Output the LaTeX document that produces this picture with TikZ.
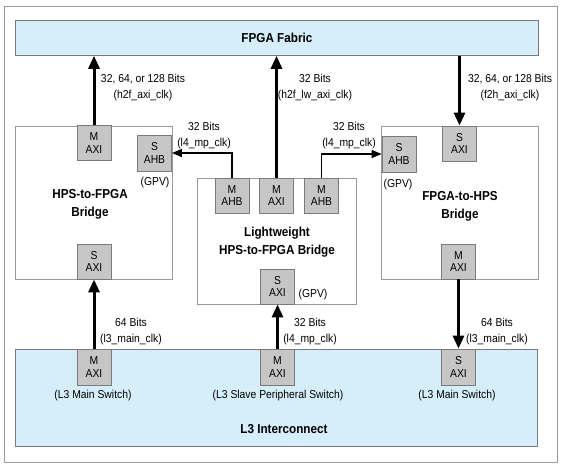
\documentclass[tikz,border=0pt]{standalone}
\usepackage{fontspec}
\setmainfont{Liberation Sans}[FakeStretch=0.9]
\usetikzlibrary{arrows.meta}
\definecolor{lblue}{HTML}{D5EEF9}
\definecolor{pgray}{HTML}{C6C6C6}
\definecolor{pborder}{HTML}{7A7A7A}
\definecolor{fgray}{HTML}{9A9A9A}
\tikzset{
  smalltxt/.style={font=\fontsize{11.5}{16}\selectfont, align=center, inner sep=0pt},
  boldtxt/.style={font=\fontsize{13}{18}\selectfont\bfseries, align=center, inner sep=0pt},
  port/.style={draw=pborder, fill=pgray, line width=0.8pt, minimum width=34pt, minimum height=35pt, inner sep=0pt, align=center, font=\fontsize{11.5}{12.5}\selectfont},
  bridge/.style={draw=fgray, fill=white, line width=0.8pt},
  area/.style={draw=pborder, fill=lblue, line width=0.8pt},
  thick arrow/.style={line width=3pt, -{Triangle[length=13pt,width=11pt]}},
  thin arrow/.style={line width=1.5pt, -{Triangle[length=10pt,width=8pt]}},
}
\begin{document}
\begin{tikzpicture}[x=1pt,y=-1pt]
\useasboundingbox (0,0) rectangle (563,467);
\draw[fgray, line width=1pt] (4,6) rectangle (557,462);

% big areas
\node[area, minimum width=523pt, minimum height=35pt, anchor=north west, inner sep=0pt] (fpga) at (15,20) {};
\node[boldtxt] (fpgatxt) at (fpga.center) {FPGA Fabric};
\node[area, minimum width=522pt, minimum height=97pt, anchor=north west, inner sep=0pt] (l3) at (15,349) {};
\node[boldtxt] (l3txt) at (284,429) {L3 Interconnect};

% bridges
\node[bridge, minimum width=157pt, minimum height=153pt, anchor=north west, inner sep=0pt] (h2f) at (15,126) {};
\node[bridge, minimum width=157pt, minimum height=153pt, anchor=north west, inner sep=0pt] (f2h) at (381,126) {};
\node[bridge, minimum width=159pt, minimum height=126pt, anchor=north west, inner sep=0pt] (lw) at (197,178) {};

% HPS-to-FPGA ports
\node[port] (h2fM) at (94,143) {M\\AXI};
\node[port, minimum height=36pt] (h2fAHB) at (154.5,153) {S\\AHB};
\node[port] (h2fS) at (94,261.5) {S\\AXI};
\node[boldtxt] (h2ftxt) at (90,204) {HPS-to-FPGA\\Bridge};
\node[smalltxt] (h2fgpv) at (155,183) {(GPV)};

% FPGA-to-HPS ports
\node[port, minimum height=36pt] (f2hAHB) at (399,154) {S\\AHB};
\node[port] (f2hS) at (459.5,143.5) {S\\AXI};
\node[port] (f2hM) at (458.5,261.5) {M\\AXI};
\node[boldtxt] (f2htxt) at (460,206) {FPGA-to-HPS\\Bridge};
\node[smalltxt] (f2hgpv) at (398,185) {(GPV)};

% Lightweight ports
\node[port] (lwAHBa) at (232,195.5) {M\\AHB};
\node[port] (lwM) at (276.5,195.5) {M\\AXI};
\node[port] (lwAHBb) at (321.5,195.5) {M\\AHB};
\node[boldtxt] (lwtxt) at (277,242) {Lightweight\\HPS-to-FPGA Bridge};
\node[port] (lwS) at (277.5,286.5) {S\\AXI};
\node[smalltxt] (lwgpv) at (313,295) {(GPV)};

% L3 ports
\node[port, minimum height=36pt] (l3Ma) at (94,367) {M\\AXI};
\node[port, minimum height=36pt] (l3Mb) at (277.5,367) {M\\AXI};
\node[port, minimum height=36pt] (l3S) at (458.5,367) {S\\AXI};
\node[smalltxt] (l3lbla) at (93,396) {(L3 Main Switch)};
\node[smalltxt] (l3lblb) at (278,396) {(L3 Slave Peripheral Switch)};
\node[smalltxt] (l3lblc) at (457,396) {(L3 Main Switch)};

% thick connectors
\draw[thick arrow] (h2fM.north) -- (h2fM.north |- fpga.south);
\draw[thick arrow] (lwM.north) -- (lwM.north |- fpga.south);
\draw[thick arrow] (f2hS.north |- fpga.south) -- (f2hS.north);
\draw[thick arrow] (l3Ma.north) -- (h2fS.south);
\draw[thick arrow] (l3Mb.north) -- (lwS.south);
\draw[thick arrow] (f2hM.south) -- (l3S.north);

% thin connectors
\draw[thin arrow] (lwAHBa.north) |- (h2fAHB.east);
\draw[thin arrow] (lwAHBb.north) |- (f2hAHB.west);

% labels
\node[smalltxt] (la) at (143,88) {32, 64, or 128 Bits\\(h2f\_axi\_clk)};
\node[smalltxt] (lb) at (315,88) {32 Bits\\(h2f\_lw\_axi\_clk)};
\node[smalltxt] (lc) at (510,88) {32, 64, or 128 Bits\\(f2h\_axi\_clk)};
\node[smalltxt] (ld) at (204,136) {32 Bits\\(l4\_mp\_clk)};
\node[smalltxt] (le) at (349,136) {32 Bits\\(l4\_mp\_clk)};
\node[smalltxt] (lf) at (131,332) {64 Bits\\(l3\_main\_clk)};
\node[smalltxt] (lg) at (310,332) {32 Bits\\(l4\_mp\_clk)};
\node[smalltxt] (lh) at (497,332) {64 Bits\\(l3\_main\_clk)};
\end{tikzpicture}
\end{document}
